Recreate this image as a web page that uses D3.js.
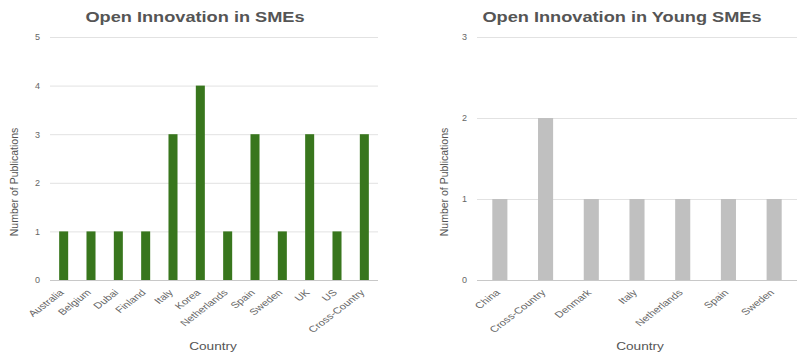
<!DOCTYPE html>
<html>
<head>
<meta charset="utf-8">
<script src="https://cdn.jsdelivr.net/npm/d3@7"></script>
<style>
  body { margin: 0; background: #fff; }
  text { font-family: "Liberation Sans", Arial, sans-serif; }
</style>
</head>
<body>
<div id="vis"></div>
<script>
// data
const smeCountries = ['Australia', 'Belgium', 'Dubai', 'Finland', 'Italy', 'Korea', 'Netherlands', 'Spain', 'Sweden', 'UK', 'US', 'Cross-Country']
const smeValues = [1, 1, 1, 1, 3, 4, 1, 3, 1, 3, 1, 3]
const smeTicks = [0, 1, 2, 3, 4, 5]

const youngCountries = ['China', 'Cross-Country', 'Denmark', 'Italy', 'Netherlands', 'Spain', 'Sweden']
const youngValues = [1, 2, 1, 1, 1, 1, 1]
const youngTicks = [0, 1, 2, 3]

const width = 798
const height = 360
// the original picture is stretched sideways a bit, so text gets widened too
const stretch = 1.3

const svg = d3.select('#vis')
    .append('svg')
    .attr('width', width)
    .attr('height', height)

//draw one bar chart panel
function buildBarChart(opts) {
    const g = svg.append('g')

    const x = d3.scaleBand()
        .domain(opts.categories)
        .range([opts.left, opts.right])
        .paddingInner(opts.pad)
        .paddingOuter(opts.pad / 2)

    const y = d3.scaleLinear()
        .domain([0, d3.max(opts.ticks)])
        .range([280, 37])

    //title
    g.append('text')
        .attr('transform', `translate(${opts.titleX},22) scale(${stretch},1)`)
        .attr('text-anchor', 'middle')
        .attr('font-size', 14)
        .attr('font-weight', 'bold')
        .attr('fill', '#555')
        .text(opts.title)

    //gridlines + y labels
    const yAxis = g.append('g')
        .attr('transform', `translate(${opts.left},0)`)
        .call(d3.axisLeft(y).tickValues(opts.ticks).tickSize(-(opts.right - opts.left)).tickPadding(10).tickFormat(d3.format('d')))
    yAxis.select('.domain').remove()
    yAxis.selectAll('.tick line').attr('stroke', d => d === 0 ? '#c8c8c8' : '#e2e2e2')
    yAxis.selectAll('.tick text').attr('fill', '#666').attr('font-size', 9)
        .attr('font-family', '"Liberation Sans", Arial, sans-serif')

    //bars
    g.selectAll('.bar')
        .data(opts.values)
        .enter()
        .append('rect')
        .attr('class', 'bar')
        .attr('x', (d, i) => x(opts.categories[i]))
        .attr('width', x.bandwidth())
        .attr('y', d => y(d))
        .attr('height', d => y(0) - y(d))
        .attr('fill', opts.color)

    //x labels, rotated
    const xAxis = g.append('g')
        .attr('transform', 'translate(0,280)')
        .call(d3.axisBottom(x).tickSize(0).tickPadding(0))
    xAxis.select('.domain').remove()
    xAxis.selectAll('.tick text')
        .attr('fill', '#666')
        .attr('font-size', 8.8)
        .attr('font-family', '"Liberation Sans", Arial, sans-serif')
        .attr('text-anchor', 'end')
        .attr('y', 0)
        .attr('dy', '0.35em')
        .attr('transform', `translate(-2,11) scale(${stretch},1) rotate(-45)`)

    //axis titles
    g.append('text')
        .attr('transform', `translate(${opts.titleX + opts.xTitleShift},350) scale(${stretch},1)`)
        .attr('text-anchor', 'middle')
        .attr('font-size', 10.5)
        .attr('fill', '#555')
        .text('Country')

    g.append('text')
        .attr('transform', `translate(${opts.yTitleX},182) rotate(-90)`)
        .attr('text-anchor', 'middle')
        .attr('font-size', 10.5)
        .attr('fill', '#555')
        .text('Number of Publications')
}

buildBarChart({
    title: 'Open Innovation in SMEs',
    categories: smeCountries,
    values: smeValues,
    ticks: smeTicks,
    color: '#38761d',
    left: 50,
    right: 378,
    pad: 0.67,
    titleX: 195,
    xTitleShift: 18,
    yTitleX: 18
})

buildBarChart({
    title: 'Open Innovation in Young SMEs',
    categories: youngCountries,
    values: youngValues,
    ticks: youngTicks,
    color: '#c0c0c0',
    left: 477,
    right: 797,
    pad: 0.67,
    titleX: 622,
    xTitleShift: 18,
    yTitleX: 448
})
</script>
</body>
</html>
